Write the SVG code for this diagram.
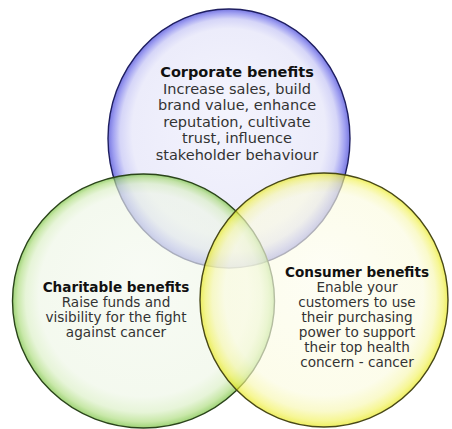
<svg xmlns="http://www.w3.org/2000/svg" width="452" height="429" viewBox="0 0 452 429">
  <defs>
    <!-- glossy rim gradients: pale centre, saturated band near the edge, heavier at the bottom -->
    <radialGradient id="gBlue" cx="0.5" cy="0.5" r="0.5" fx="0.5" fy="0.38">
      <stop offset="0" stop-color="#eeeefc"/>
      <stop offset="0.8" stop-color="#e2e2f8"/>
      <stop offset="0.9" stop-color="#c0c0f4"/>
      <stop offset="0.96" stop-color="#6e6eea"/>
      <stop offset="1" stop-color="#3030d0"/>
    </radialGradient>
    <radialGradient id="gGreen" cx="0.5" cy="0.5" r="0.5" fx="0.5" fy="0.38">
      <stop offset="0" stop-color="#f4f9ef"/>
      <stop offset="0.8" stop-color="#eef6e6"/>
      <stop offset="0.9" stop-color="#daefc4"/>
      <stop offset="0.96" stop-color="#acdc7c"/>
      <stop offset="1" stop-color="#6cbc30"/>
    </radialGradient>
    <radialGradient id="gYellow" cx="0.5" cy="0.5" r="0.5" fx="0.5" fy="0.38">
      <stop offset="0" stop-color="#fdfdf0"/>
      <stop offset="0.8" stop-color="#fbfbe0"/>
      <stop offset="0.9" stop-color="#f7f7b0"/>
      <stop offset="0.96" stop-color="#f2f260"/>
      <stop offset="1" stop-color="#e6e610"/>
    </radialGradient>
    <style>
      .disc { fill-opacity: 0.66; stroke-width: 1.4; }
      .blue { fill: url(#gBlue); stroke: #1e1e60; }
      .green { fill: url(#gGreen); stroke: #2a441a; }
      .yellow { fill: url(#gYellow); stroke: #484816; }
      text { font-family: "DejaVu Sans", Verdana, sans-serif; font-size: 13.6px; text-anchor: middle; fill: #333; }
      .big { font-size: 14.5px; }
      .title { font-weight: bold; fill: #111; }
    </style>
  </defs>

  <rect width="452" height="429" fill="#ffffff"/>

  <g id="corporate">
    <ellipse class="disc blue" cx="229" cy="138.5" rx="121" ry="129.5"/>
  </g>
  <g id="charitable">
    <ellipse class="disc green" cx="143.5" cy="301" rx="131" ry="127"/>
  </g>
  <g id="consumer">
    <ellipse class="disc yellow" cx="324" cy="300" rx="124" ry="127"/>
  </g>

  <g id="labels">
    <text x="237" y="77" class="big title">Corporate benefits</text>
    <text x="237" y="93.5" class="big">Increase sales, build</text>
    <text x="237" y="110" class="big">brand value, enhance</text>
    <text x="237" y="126.5" class="big">reputation, cultivate</text>
    <text x="237" y="143" class="big">trust, influence</text>
    <text x="237" y="159.5" class="big">stakeholder behaviour</text>

    <text x="116" y="292" class="title">Charitable benefits</text>
    <text x="116" y="307">Raise funds and</text>
    <text x="116" y="322">visibility for the fight</text>
    <text x="116" y="337">against cancer</text>

    <text x="357" y="277" class="title">Consumer benefits</text>
    <text x="357" y="292">Enable your</text>
    <text x="357" y="307">customers to use</text>
    <text x="357" y="322">their purchasing</text>
    <text x="357" y="337">power to support</text>
    <text x="357" y="352">their top health</text>
    <text x="357" y="367">concern - cancer</text>
  </g>
</svg>
